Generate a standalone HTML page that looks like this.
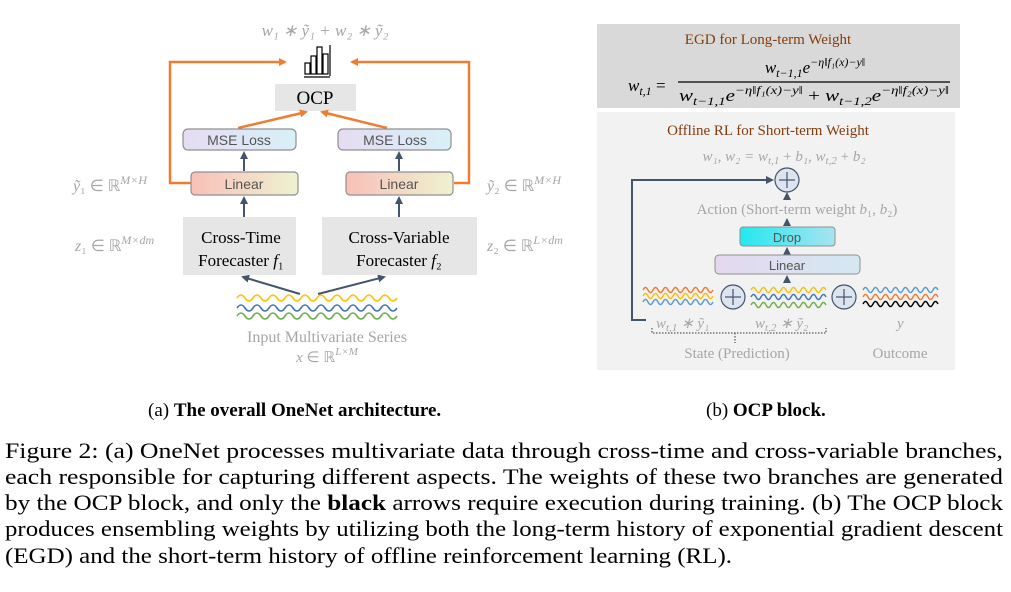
<!DOCTYPE html>
<html><head><meta charset="utf-8"><style>
html,body{margin:0;padding:0;background:#fff;}
svg{display:block}
.ser{font-family:"Liberation Serif",serif}
.san{font-family:"Liberation Sans",sans-serif}
</style></head><body>
<svg width="1011" height="592" viewBox="0 0 1011 592" xmlns="http://www.w3.org/2000/svg">
<defs>
<linearGradient id="gl" x1="0" x2="1"><stop offset="0" stop-color="#f8c0b8"/><stop offset="1" stop-color="#eef2d0"/></linearGradient>
<linearGradient id="gm" x1="0" x2="1"><stop offset="0" stop-color="#e6dcf2"/><stop offset="1" stop-color="#d8f0f8"/></linearGradient>
<linearGradient id="gd" x1="0" x2="1"><stop offset="0" stop-color="#22e8f0"/><stop offset="1" stop-color="#a8e4f0"/></linearGradient>
<linearGradient id="gli" x1="0" x2="1"><stop offset="0" stop-color="#e4d8ee"/><stop offset="1" stop-color="#d4e8f2"/></linearGradient>
<marker id="ao" markerWidth="8" markerHeight="8" refX="6" refY="4" orient="auto" markerUnits="userSpaceOnUse"><path d="M0,0 L8,4 L0,8 z" fill="#f07c30"/></marker>
<marker id="ab" markerWidth="8" markerHeight="8" refX="6" refY="4" orient="auto" markerUnits="userSpaceOnUse"><path d="M0,0 L8,4 L0,8 z" fill="#44546a"/></marker>
</defs>

<!-- LEFT PANEL -->
<text x="325" y="36" class="ser" font-size="17" font-style="italic" fill="#a6a6a6" text-anchor="middle">w₁ ∗  ỹ₁ + w₂ ∗  ỹ₂</text>
<g fill="none" stroke="#000" stroke-width="1.2">
<rect x="305" y="63" width="5" height="11"/><rect x="311" y="56" width="5" height="18"/><rect x="317" y="47" width="5" height="27"/><rect x="323" y="54" width="5" height="20"/>
<line x1="330" y1="45" x2="330" y2="76"/><line x1="304" y1="77" x2="330" y2="77"/>
</g>
<rect x="275" y="84" width="81" height="27" fill="#e6e6e6"/>
<text x="315" y="104" class="ser" font-size="19" text-anchor="middle">OCP</text>
<g stroke="#f07c30" stroke-width="2.5" fill="none">
<polyline points="191,183 170,183 170,62 285,62" marker-end="url(#ao)"/>
<polyline points="454,183 469,183 469,62 352,62" marker-end="url(#ao)"/>
<line x1="238" y1="128" x2="306" y2="112" marker-end="url(#ao)"/>
<line x1="387" y1="128" x2="322" y2="112" marker-end="url(#ao)"/>
</g>
<rect x="183" y="129" width="113" height="21" rx="5" fill="url(#gm)" stroke="#909090" stroke-width="1.2"/>
<text x="239" y="145" class="san" font-size="14" fill="#555" text-anchor="middle">MSE Loss</text>
<rect x="338" y="129" width="113" height="21" rx="5" fill="url(#gm)" stroke="#909090" stroke-width="1.2"/>
<text x="395" y="145" class="san" font-size="14" fill="#555" text-anchor="middle">MSE Loss</text>
<rect x="191" y="172" width="107" height="23" rx="4" fill="url(#gl)" stroke="#909090" stroke-width="1.2"/>
<text x="244" y="189" class="san" font-size="14" fill="#555" text-anchor="middle">Linear</text>
<rect x="346" y="172" width="107" height="23" rx="4" fill="url(#gl)" stroke="#909090" stroke-width="1.2"/>
<text x="399" y="189" class="san" font-size="14" fill="#555" text-anchor="middle">Linear</text>
<g stroke="#44546a" stroke-width="2" fill="none">
<line x1="244" y1="171" x2="244" y2="153" marker-end="url(#ab)"/>
<line x1="399" y1="171" x2="399" y2="153" marker-end="url(#ab)"/>
<line x1="244" y1="217" x2="244" y2="198" marker-end="url(#ab)"/>
<line x1="399" y1="217" x2="399" y2="198" marker-end="url(#ab)"/>
<line x1="300" y1="294" x2="243" y2="277" marker-end="url(#ab)"/>
<line x1="318" y1="294" x2="384" y2="277" marker-end="url(#ab)"/>
</g>
<rect x="183" y="217" width="113" height="58" fill="#e6e6e6"/>
<text x="241" y="243" class="ser" font-size="17" text-anchor="middle">Cross-Time</text>
<text x="241" y="266" class="ser" font-size="17" text-anchor="middle">Forecaster <tspan font-style="italic">f</tspan>₁</text>
<rect x="322" y="217" width="155" height="58" fill="#e6e6e6"/>
<text x="399" y="243" class="ser" font-size="17" text-anchor="middle">Cross-Variable</text>
<text x="399" y="266" class="ser" font-size="17" text-anchor="middle">Forecaster <tspan font-style="italic">f</tspan>₂</text>
<g fill="none" stroke-width="1.6">
<path d="M237,298 q4,-6 8,0 t8,0 t8,0 t8,0 t8,0 t8,0 t8,0 t8,0 t8,0 t8,0 t8,0 t8,0 t8,0 t8,0 t8,0 t8,0 t8,0 t8,0 t8,0 t8,0" stroke="#ffc000"/>
<path d="M237,308 q4,-6 8,0 t8,0 t8,0 t8,0 t8,0 t8,0 t8,0 t8,0 t8,0 t8,0 t8,0 t8,0 t8,0 t8,0 t8,0 t8,0 t8,0 t8,0 t8,0 t8,0" stroke="#4472c4"/>
<path d="M237,316 q4,-6 8,0 t8,0 t8,0 t8,0 t8,0 t8,0 t8,0 t8,0 t8,0 t8,0 t8,0 t8,0 t8,0 t8,0 t8,0 t8,0 t8,0 t8,0 t8,0 t8,0" stroke="#70ad47"/>
</g>
<text x="327" y="342" class="ser" font-size="16" fill="#a6a6a6" text-anchor="middle">Input Multivariate Series</text>
<text x="327" y="362" class="ser" font-size="15" fill="#a6a6a6" text-anchor="middle"><tspan font-style="italic">x</tspan> ∈ ℝ<tspan font-size="11" dy="-7" font-style="italic">L×M</tspan></text>
<text x="73" y="191" class="ser" font-size="16" fill="#a6a6a6"><tspan font-style="italic">ỹ</tspan>₁ ∈ ℝ<tspan font-size="12" dy="-7" font-style="italic">M×H</tspan></text>
<text x="75" y="251" class="ser" font-size="16" fill="#a6a6a6"><tspan font-style="italic">z</tspan>₁ ∈ ℝ<tspan font-size="12" dy="-7" font-style="italic">M×dm</tspan></text>
<text x="487" y="191" class="ser" font-size="16" fill="#a6a6a6"><tspan font-style="italic">ỹ</tspan>₂ ∈ ℝ<tspan font-size="12" dy="-7" font-style="italic">M×H</tspan></text>
<text x="487" y="251" class="ser" font-size="16" fill="#a6a6a6"><tspan font-style="italic">z</tspan>₂ ∈ ℝ<tspan font-size="12" dy="-7" font-style="italic">L×dm</tspan></text>

<!-- RIGHT PANEL -->
<rect x="597" y="24" width="363" height="84" fill="#d9d9d9"/>
<text x="768" y="44" class="ser" font-size="15" fill="#843c0c" text-anchor="middle">EGD for Long-term Weight</text>
<text x="628" y="91" class="ser" font-size="17" font-style="italic">w<tspan font-size="12" dy="4">t,1</tspan><tspan dy="-4" font-style="normal"> =</tspan></text>
<text x="815" y="73" class="ser" font-size="17" font-style="italic" text-anchor="middle">w<tspan font-size="12" dy="4">t−1,1</tspan><tspan dy="-4">e</tspan><tspan font-size="12" dy="-7">−η‖f₁(x)−y‖</tspan></text>
<line x1="678" y1="82" x2="950" y2="82" stroke="#000" stroke-width="1.2"/>
<text x="814" y="101" class="ser" font-size="17" font-style="italic" text-anchor="middle" textLength="270" lengthAdjust="spacingAndGlyphs">w<tspan font-size="12" dy="4">t−1,1</tspan><tspan dy="-4">e</tspan><tspan font-size="12" dy="-7">−η‖f₁(x)−y‖</tspan><tspan dy="7" font-style="normal"> + </tspan>w<tspan font-size="12" dy="4">t−1,2</tspan><tspan dy="-4">e</tspan><tspan font-size="12" dy="-7">−η‖f₂(x)−y‖</tspan></text>

<rect x="597" y="112" width="358" height="258" fill="#f2f2f2"/>
<text x="768" y="135" class="ser" font-size="15" fill="#843c0c" text-anchor="middle">Offline RL for Short-term Weight</text>
<text x="784" y="161" class="ser" font-size="15" fill="#a6a6a6" text-anchor="middle" font-style="italic">w₁, w₂ = w<tspan font-size="11" dy="3">t,1</tspan><tspan dy="-3" font-style="normal"> + </tspan>b₁, w<tspan font-size="11" dy="3">t,2</tspan><tspan dy="-3" font-style="normal"> + </tspan>b₂</text>
<polyline points="646,320 632,320 632,180 772,180" fill="none" stroke="#44546a" stroke-width="2" marker-end="url(#ab)"/>
<g stroke="#44546a" stroke-width="1.2" fill="#dde3ef">
<circle cx="787" cy="180" r="12"/><circle cx="733" cy="297" r="12"/><circle cx="844" cy="297" r="12"/>
</g>
<g stroke="#44546a" stroke-width="1.2">
<line x1="779" y1="180" x2="795" y2="180"/><line x1="787" y1="172" x2="787" y2="188"/>
<line x1="725" y1="297" x2="741" y2="297"/><line x1="733" y1="289" x2="733" y2="305"/>
<line x1="836" y1="297" x2="852" y2="297"/><line x1="844" y1="289" x2="844" y2="305"/>
</g>
<text x="797" y="214" class="ser" font-size="15" fill="#a6a6a6" text-anchor="middle">Action (Short-term weight <tspan font-style="italic">b</tspan>₁, <tspan font-style="italic">b</tspan>₂)</text>
<g stroke="#44546a" stroke-width="1.5">
<line x1="787" y1="199" x2="787" y2="194" marker-end="url(#ab)"/>
<line x1="787" y1="226" x2="787" y2="220" marker-end="url(#ab)"/>
<line x1="787" y1="254" x2="787" y2="249" marker-end="url(#ab)"/>
<line x1="787" y1="283" x2="787" y2="277" marker-end="url(#ab)"/>
</g>
<rect x="740" y="227" width="95" height="19" rx="3" fill="url(#gd)" stroke="#909090"/>
<text x="787" y="242" class="san" font-size="13" fill="#555" text-anchor="middle">Drop</text>
<rect x="715" y="255" width="145" height="19" rx="4" fill="url(#gli)" stroke="#909090"/>
<text x="787" y="270" class="san" font-size="13" fill="#555" text-anchor="middle">Linear</text>
<g fill="none" stroke-width="1.4">
<path d="M643,290 q2.5,-5 5,0 t5,0 t5,0 t5,0 t5,0 t5,0 t5,0 t5,0 t5,0 t5,0 t5,0 t5,0 t5,0 t5,0" stroke="#f07c30"/>
<path d="M643,296 q2.5,-5 5,0 t5,0 t5,0 t5,0 t5,0 t5,0 t5,0 t5,0 t5,0 t5,0 t5,0 t5,0 t5,0 t5,0" stroke="#ffc000"/>
<path d="M643,302 q2.5,-5 5,0 t5,0 t5,0 t5,0 t5,0 t5,0 t5,0 t5,0 t5,0 t5,0 t5,0 t5,0 t5,0 t5,0" stroke="#5b9bd5"/>
<path d="M751,290 q2.5,-5 5,0 t5,0 t5,0 t5,0 t5,0 t5,0 t5,0 t5,0 t5,0 t5,0 t5,0 t5,0 t5,0 t5,0 t5,0" stroke="#ffc000"/>
<path d="M751,297 q2.5,-5 5,0 t5,0 t5,0 t5,0 t5,0 t5,0 t5,0 t5,0 t5,0 t5,0 t5,0 t5,0 t5,0 t5,0 t5,0" stroke="#4472c4"/>
<path d="M751,305 q2.5,-5 5,0 t5,0 t5,0 t5,0 t5,0 t5,0 t5,0 t5,0 t5,0 t5,0 t5,0 t5,0 t5,0 t5,0 t5,0" stroke="#70ad47"/>
<path d="M863,290 q2.5,-5 5,0 t5,0 t5,0 t5,0 t5,0 t5,0 t5,0 t5,0 t5,0 t5,0 t5,0 t5,0 t5,0 t5,0 t5,0" stroke="#5b9bd5"/>
<path d="M863,297 q2.5,-5 5,0 t5,0 t5,0 t5,0 t5,0 t5,0 t5,0 t5,0 t5,0 t5,0 t5,0 t5,0 t5,0 t5,0 t5,0" stroke="#f07c30"/>
<path d="M863,304 q2.5,-5 5,0 t5,0 t5,0 t5,0 t5,0 t5,0 t5,0 t5,0 t5,0 t5,0 t5,0 t5,0 t5,0 t5,0 t5,0" stroke="#000"/>
</g>
<text x="656" y="328" class="ser" font-size="15" fill="#a6a6a6" font-style="italic">w<tspan font-size="11" dy="3">t,1</tspan><tspan dy="-3"> ∗  ỹ₁</tspan></text>
<text x="755" y="328" class="ser" font-size="15" fill="#a6a6a6" font-style="italic">w<tspan font-size="11" dy="3">t,2</tspan><tspan dy="-3"> ∗  ỹ₂</tspan></text>
<text x="897" y="328" class="ser" font-size="15" fill="#a6a6a6" font-style="italic">y</text>
<polyline points="652,328 652,333 826,333 826,328" fill="none" stroke="#333" stroke-width="1" stroke-dasharray="1.5,1.5"/>
<line x1="735" y1="333" x2="735" y2="343" stroke="#333" stroke-width="1" stroke-dasharray="1.5,1.5"/>
<text x="737" y="358" class="ser" font-size="15" fill="#a6a6a6" text-anchor="middle">State (Prediction)</text>
<text x="900" y="358" class="ser" font-size="15" fill="#a6a6a6" text-anchor="middle">Outcome</text>

<!-- CAPTIONS -->
<text x="148" y="416" class="ser" font-size="19">(a) <tspan font-weight="bold">The overall OneNet architecture.</tspan></text>
<text x="706" y="416" class="ser" font-size="19">(b) <tspan font-weight="bold">OCP block.</tspan></text>
<g class="ser" font-size="22">
<text x="5" y="458" textLength="998" lengthAdjust="spacingAndGlyphs">Figure 2: (a) OneNet processes multivariate data through cross-time and cross-variable branches,</text>
<text x="5" y="484" textLength="998" lengthAdjust="spacingAndGlyphs">each responsible for capturing different aspects. The weights of these two branches are generated</text>
<text x="5" y="510" textLength="998" lengthAdjust="spacingAndGlyphs">by the OCP block, and only the <tspan font-weight="bold">black</tspan> arrows require execution during training. (b) The OCP block</text>
<text x="5" y="536" textLength="998" lengthAdjust="spacingAndGlyphs">produces ensembling weights by utilizing both the long-term history of exponential gradient descent</text>
<text x="5" y="563" textLength="727" lengthAdjust="spacingAndGlyphs">(EGD) and the short-term history of offline reinforcement learning (RL).</text>
</g>
</svg>
</body></html>
